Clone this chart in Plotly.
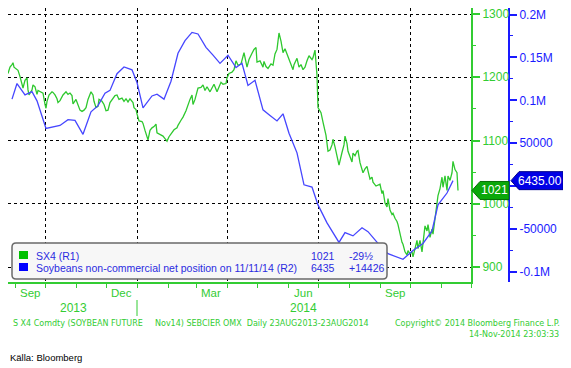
import plotly.graph_objects as go

# ---------------- data ----------------
sx4_dates = [
    "2013-08-25","2013-08-27","2013-08-29","2013-08-30","2013-08-31","2013-09-03","2013-09-04","2013-09-06",
    "2013-09-08","2013-09-09","2013-09-11","2013-09-13","2013-09-14","2013-09-15","2013-09-18","2013-09-19",
    "2013-09-21","2013-09-23","2013-09-24","2013-09-26","2013-09-29","2013-10-01","2013-10-02","2013-10-03",
    "2013-10-05","2013-10-08","2013-10-09","2013-10-11","2013-10-13","2013-10-14","2013-10-16","2013-10-19",
    "2013-10-22","2013-10-24","2013-10-26","2013-10-28","2013-10-29","2013-11-01","2013-11-03","2013-11-05",
    "2013-11-07","2013-11-09","2013-11-11","2013-11-13","2013-11-16","2013-11-18","2013-11-19","2013-11-21",
    "2013-11-23","2013-11-24","2013-11-27","2013-11-29","2013-12-01","2013-12-03","2013-12-05","2013-12-07",
    "2013-12-10","2013-12-12","2013-12-14","2013-12-17","2013-12-19","2013-12-21","2013-12-23","2013-12-25",
    "2013-12-28","2013-12-29","2013-12-31","2014-01-01","2014-01-03","2014-01-06","2014-01-07","2014-01-09",
    "2014-01-11","2014-01-12","2014-01-14","2014-01-16","2014-01-18","2014-01-20","2014-01-21","2014-01-23",
    "2014-01-27","2014-01-29","2014-01-31","2014-02-02","2014-02-05","2014-02-07","2014-02-10","2014-02-11",
    "2014-02-14","2014-02-16","2014-02-19","2014-02-21","2014-02-23","2014-02-25","2014-02-26","2014-02-28",
    "2014-03-02","2014-03-03","2014-03-06","2014-03-08","2014-03-10","2014-03-12","2014-03-15","2014-03-17",
    "2014-03-19","2014-03-22","2014-03-24","2014-03-26","2014-03-28","2014-03-31","2014-04-01","2014-04-03",
    "2014-04-06","2014-04-08","2014-04-10","2014-04-12","2014-04-15","2014-04-17","2014-04-18","2014-04-21",
    "2014-04-23","2014-04-26","2014-04-28","2014-04-30","2014-05-01","2014-05-04","2014-05-07","2014-05-08",
    "2014-05-10","2014-05-12","2014-05-15","2014-05-17","2014-05-19","2014-05-21","2014-05-23","2014-05-25",
    "2014-05-27","2014-05-29","2014-05-31","2014-06-03","2014-06-06","2014-06-07","2014-06-10","2014-06-12",
    "2014-06-14","2014-06-16","2014-06-18","2014-06-20","2014-06-22","2014-06-25","2014-06-26","2014-06-28",
    "2014-06-30","2014-07-01","2014-07-04","2014-07-06","2014-07-09","2014-07-11","2014-07-13","2014-07-15",
    "2014-07-16","2014-07-18","2014-07-20","2014-07-22","2014-07-25","2014-07-27","2014-07-28","2014-07-30",
    "2014-07-31","2014-08-02","2014-08-04","2014-08-05","2014-08-07","2014-08-09","2014-08-10","2014-08-12",
    "2014-08-14","2014-08-15","2014-08-17","2014-08-19","2014-08-20","2014-08-22","2014-08-24","2014-08-25",
    "2014-08-28","2014-08-30","2014-09-01","2014-09-03","2014-09-04","2014-09-06","2014-09-08","2014-09-09",
    "2014-09-11","2014-09-13","2014-09-14","2014-09-16","2014-09-18","2014-09-19","2014-09-21","2014-09-23",
    "2014-09-24","2014-09-26","2014-09-28","2014-09-29","2014-10-01","2014-10-03","2014-10-04","2014-10-06",
    "2014-10-08","2014-10-09","2014-10-11","2014-10-13","2014-10-14","2014-10-16","2014-10-18","2014-10-19",
    "2014-10-21","2014-10-23","2014-10-24","2014-10-26","2014-10-28","2014-10-29","2014-10-31","2014-11-02",
    "2014-11-03","2014-11-05","2014-11-07","2014-11-08","2014-11-10","2014-11-12","2014-11-13","2014-11-15",
    "2014-11-17","2014-11-18",
]
sx4_prices = [
    1206,1216,1220,1223,1216,1213,1211,1201,
    1190,1183,1195,1199,1180,1172,1180,1188,
    1185,1173,1179,1177,1175,1157,1151,1162,
    1172,1177,1176,1172,1166,1160,1163,1172,
    1177,1173,1175,1171,1158,1165,1157,1148,
    1146,1148,1152,1165,1177,1172,1162,1152,
    1154,1165,1162,1157,1147,1148,1160,1165,
    1171,1172,1165,1167,1162,1166,1161,1166,
    1160,1152,1149,1142,1131,1130,1127,1116,
    1103,1101,1116,1120,1122,1126,1112,1110,
    1107,1103,1099,1106,1112,1117,1120,1124,
    1132,1137,1147,1157,1165,1172,1157,1165,
    1177,1183,1184,1188,1179,1185,1177,1184,
    1189,1177,1185,1192,1189,1190,1199,1206,
    1208,1212,1226,1219,1221,1234,1239,1216,
    1228,1238,1244,1247,1224,1226,1216,1225,
    1217,1214,1221,1219,1237,1244,1270,1257,
    1239,1245,1237,1225,1212,1220,1230,1216,
    1220,1212,1216,1226,1234,1228,1231,1243,
    1203,1152,1144,1129,1108,1083,1085,1093,
    1102,1090,1077,1061,1081,1093,1107,1095,
    1083,1075,1066,1080,1076,1083,1084,1065,
    1054,1049,1055,1059,1052,1039,1042,1034,
    1028,1029,1031,1016,1021,1001,995,1008,
    990,983,985,977,972,967,952,939,
    936,924,919,926,921,924,916,929,
    942,929,942,924,936,965,957,967,
    947,960,952,977,993,1013,1024,1042,
    1026,1044,1021,1044,1037,1049,1067,1054,
    1049,1021,
]

cot_dates = [
    "2013-08-29","2013-09-03","2013-09-11","2013-09-18","2013-09-23","2013-10-02","2013-10-16","2013-10-24",
    "2013-10-31","2013-11-08","2013-11-16","2013-11-23","2013-11-30","2013-12-05","2013-12-12","2013-12-19",
    "2013-12-27","2014-01-01","2014-01-07","2014-01-16","2014-01-21","2014-01-28","2014-02-04","2014-02-11",
    "2014-02-18","2014-02-25","2014-03-03","2014-03-11","2014-03-18","2014-03-25","2014-04-02","2014-04-10",
    "2014-04-16","2014-04-22","2014-04-29","2014-05-07","2014-05-14","2014-05-21","2014-05-27","2014-06-02",
    "2014-06-10","2014-06-17","2014-06-25","2014-07-01","2014-07-10","2014-07-22","2014-07-28","2014-08-05",
    "2014-08-14","2014-08-20","2014-08-30","2014-09-09","2014-09-24","2014-10-04","2014-10-14","2014-10-23",
    "2014-10-29","2014-11-07","2014-11-13",
]
cot_net = [
    101400,119600,106300,110100,99400,67200,70700,77500,
    76700,60400,86600,93800,108200,111600,131000,138900,
    135500,120700,91100,105100,107100,101400,122200,154800,
    169600,179100,177300,161700,152600,143100,152600,138100,
    143100,117300,123300,88900,82400,76000,84300,61600,
    38800,1600,-1000,-21800,-42800,-65500,-54100,-57900,
    -48500,-53000,-66700,-78700,-85200,-75000,-66700,-52200,
    -21800,-7991,6435,
]

sx4_ticks = [900, 1000, 1100, 1200, 1300]
cot_ticks = [-100000, -50000, 0, 50000, 100000, 150000, 200000]
cot_ticktext = ["-0.1M", "-50000", "", "50000", "0.1M", "0.15M", "0.2M"]  # "0" sits under the badge
quarter_starts = ["2013-10-01", "2014-01-01", "2014-04-01", "2014-07-01", "2014-10-01"]
month_label_dates = ["2013-09-16", "2013-12-16", "2014-03-16", "2014-06-16", "2014-09-16"]
month_labels = ["Sep", "Dec", "Mar", "Jun", "Sep"]
year_label_dates = ["2013-10-29", "2014-06-16"]
year_labels = ["2013", "2014"]

sx4_last = 1021
sx4_change = "-29½"
cot_last = 6435
cot_change = "+14426"

# ---------------- layout helpers ----------------
# The page body adds an 8px offset; positions below are given in window pixels.
OFF = 8
W, H = 571, 368
ML, MR, MT, MB = 0, 10, 0, 94
PW = W - ML - MR
PH = H - MT - MB
Y1_RANGE = [876.3, 1309.5]
Y2_RANGE = [-111650, 207570]


def px(x):
    return (x - OFF - ML) / PW


def py(y):
    return (MT + PH - (y - OFF)) / PH


def value_to_paper(v, rng):
    return (v - rng[0]) / (rng[1] - rng[0])


GREEN = "#33cc33"
GREEN_LINE = "#2ec82e"
BLUE = "#1a1aff"
BLUE_LINE = "#4646ff"
FONT = "Liberation Sans, Arial, sans-serif"
x_end = px(471)
blue_pos = px(509)

fig = go.Figure()
fig.add_trace(go.Scatter(x=sx4_dates, y=sx4_prices, mode="lines",
                         line=dict(color=GREEN_LINE, width=1.3), yaxis="y", showlegend=False,
                         hoverinfo="skip"))
fig.add_trace(go.Scatter(x=cot_dates, y=cot_net, mode="lines",
                         line=dict(color=BLUE_LINE, width=1.3), yaxis="y2", showlegend=False,
                         hoverinfo="skip"))

shapes = []
annotations = []

# legend box
shapes.append(dict(
    type="path", xref="paper", yref="paper", xsizemode="pixel", ysizemode="pixel",
    xanchor=px(199.5), yanchor=py(261),
    path="M -183.5,-18 L 183.5,-18 Q 187.5,-18 187.5,-14 L 187.5,14 Q 187.5,18 183.5,18 "
         "L -183.5,18 Q -187.5,18 -187.5,14 L -187.5,-14 Q -187.5,-18 -183.5,-18 Z",
    fillcolor="#f7f7f7", line=dict(color="#6a6a6a", width=1.5), layer="above"))
shapes.append(dict(type="rect", xref="paper", yref="paper", x0=px(19), x1=px(28), y0=py(259), y1=py(251),
                   fillcolor="#00c000", line=dict(width=0), layer="above"))
shapes.append(dict(type="rect", xref="paper", yref="paper", x0=px(19), x1=px(28), y0=py(271), y1=py(263),
                   fillcolor="#0000ff", line=dict(width=0), layer="above"))
LEG = dict(family=FONT, size=10.5, color="#2b2be0")
annotations += [
    dict(text="SX4 (R1)", x=px(34), y=py(256), xanchor="left", yanchor="middle"),
    dict(text="Soybeans non-commercial net position on 11/11/14 (R2)", x=px(34), y=py(268),
         xanchor="left", yanchor="middle"),
    dict(text=str(sx4_last), x=px(337), y=py(256), xanchor="right", yanchor="middle"),
    dict(text=sx4_change, x=px(347), y=py(256), xanchor="left", yanchor="middle"),
    dict(text=str(cot_last), x=px(337), y=py(268), xanchor="right", yanchor="middle"),
    dict(text=cot_change, x=px(347), y=py(268), xanchor="left", yanchor="middle"),
]
for a in annotations:
    a.update(xref="paper", yref="paper", showarrow=False, font=LEG)


# last-value badges: pentagon pointing at the axis, placed at the value's height
def badge(x_tip, x_right, yc, half_px=9):
    dy = half_px / PH
    xs, xb, xr = px(x_tip), px(x_tip + 8), px(x_right)
    return (f"M {xs},{yc} L {xb},{yc + dy} L {xr},{yc + dy} "
            f"L {xr},{yc - dy} L {xb},{yc - dy} Z")


g_y = value_to_paper(sx4_last, Y1_RANGE)
b_y = value_to_paper(cot_last, Y2_RANGE)
shapes.append(dict(type="path", xref="paper", yref="paper", path=badge(472, 509, g_y),
                   fillcolor="#0aa80a", line=dict(color="#067006", width=1), layer="above"))
shapes.append(dict(type="path", xref="paper", yref="paper", path=badge(511, 563, b_y),
                   fillcolor="#0000e6", line=dict(color="#000090", width=1), layer="above"))
annotations.append(dict(text=str(sx4_last), x=px(494), y=g_y, xanchor="center",
                        font=dict(family=FONT, size=12, color="white")))
annotations.append(dict(text=f"{cot_last:.2f}", x=px(540), y=b_y, xanchor="center",
                        font=dict(family=FONT, size=12, color="white")))

# month & year labels
for d, t in zip(month_label_dates, month_labels):
    annotations.append(dict(text=t, xref="x", yref="paper", x=d, y=py(293), showarrow=False,
                            xanchor="center", font=dict(family=FONT, size=11.5, color=GREEN)))
for d, t in zip(year_label_dates, year_labels):
    annotations.append(dict(text=t, xref="x", yref="paper", x=d, y=py(308), showarrow=False,
                            xanchor="center", font=dict(family=FONT, size=12, color=GREEN)))
shapes.append(dict(type="line", xref="x", yref="paper", x0="2014-01-01", x1="2014-01-01",
                   y0=py(300), y1=py(316), line=dict(color=GREEN, width=1)))

# footer
FOOT = dict(family="DejaVu Sans, sans-serif", size=8, color=GREEN)
annotations += [
    dict(text="S X4 Comdty (SOYBEAN FUTURE", x=px(11), y=py(323), xanchor="left", font=FOOT),
    dict(text="Nov14) SEBCIER OMX\u00a0\u00a0Daily 23AUG2013-23AUG2014", x=px(153), y=py(323),
         xanchor="left", font=FOOT),
    dict(text="Copyright© 2014 Bloomberg Finance L.P.", x=px(562), y=py(323), xanchor="right", font=FOOT),
    dict(text="14-Nov-2014 23:03:33", x=px(561), y=py(334), xanchor="right", font=FOOT),
    dict(text="Källa: Bloomberg", x=px(8), y=py(357), xanchor="left",
         font=dict(family=FONT, size=9.5, color="#000000")),
]
for a in annotations:
    a.setdefault("xref", "paper")
    a.setdefault("yref", "paper")
    a.setdefault("showarrow", False)
    a.setdefault("yanchor", "middle")

fig.update_layout(
    width=W, height=H,
    margin=dict(l=ML, r=MR, t=MT, b=MB, pad=0),
    paper_bgcolor="white", plot_bgcolor="white",
    showlegend=False,
    xaxis=dict(
        domain=[0, x_end], type="date", range=["2013-08-25", "2014-12-01"],
        tickmode="array", tickvals=quarter_starts, ticktext=[""] * len(quarter_starts),
        ticks="outside", ticklen=4, tickwidth=1, tickcolor=GREEN,
        minor=dict(dtick="M1", tick0="2013-09-01", ticks="outside", ticklen=4, tickwidth=1,
                   tickcolor=GREEN, showgrid=False),
        showgrid=True, gridcolor="#000000", griddash="dot", gridwidth=1,
        showline=True, linecolor=GREEN, linewidth=1.5,
        zeroline=False, automargin=False, fixedrange=True,
    ),
    yaxis=dict(
        side="right", range=Y1_RANGE, tickmode="array", tickvals=sx4_ticks,
        ticks="outside", ticklen=7, tickwidth=2, tickcolor=GREEN,
        minor=dict(dtick=50, tick0=0, ticks="outside", ticklen=3, tickwidth=1, tickcolor=GREEN),
        showgrid=True, gridcolor="#000000", griddash="dot", gridwidth=1,
        showline=True, linecolor=GREEN, linewidth=2,
        tickfont=dict(family=FONT, size=12, color=GREEN), ticklabeloverflow="allow",
        zeroline=False, automargin=False, fixedrange=True,
    ),
    yaxis2=dict(
        overlaying="y", side="right", anchor="free", position=blue_pos,
        range=Y2_RANGE, tickmode="array", tickvals=cot_ticks, ticktext=cot_ticktext,
        ticks="outside", ticklen=7, tickwidth=2, tickcolor=BLUE,
        minor=dict(dtick=25000, tick0=0, ticks="outside", ticklen=3, tickwidth=1, tickcolor=BLUE),
        showgrid=False, showline=True, linecolor=BLUE, linewidth=2,
        tickfont=dict(family=FONT, size=12, color=BLUE), ticklabeloverflow="allow",
        zeroline=False, automargin=False, fixedrange=True,
    ),
    shapes=shapes,
    annotations=annotations,
)

fig.write_html("out.html")
